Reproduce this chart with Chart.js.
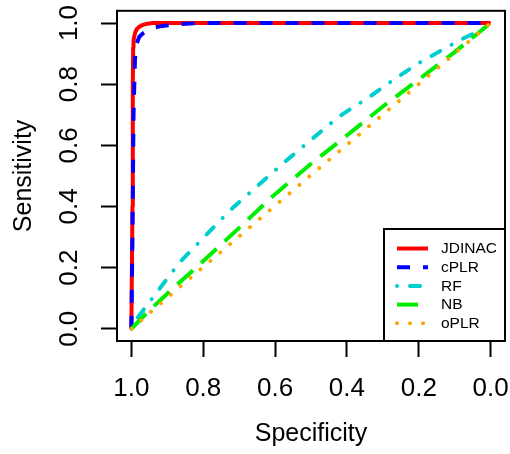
<!DOCTYPE html>
<html>
<head>
<meta charset="utf-8">
<script src="https://cdn.jsdelivr.net/npm/chart.js@4/dist/chart.umd.min.js"></script>
<style>
html,body{margin:0;padding:0;background:#fff;}
canvas{display:block;}
</style>
</head>
<body>
<canvas id="c" width="510" height="454" style="width:510px;height:454px"></canvas>
<script>
// ---- data (specificity on x, sensitivity on y) ----
const seriesNames = ["JDINAC", "cPLR", "RF", "NB", "oPLR"];

const jdinacSpec = [1, 0.997, 0.996, 0.995, 0.994, 0.992, 0.989, 0.985, 0.978, 0.968, 0.955, 0.94, 0.9, 0];
const jdinacSens = [0, 0.4, 0.8, 0.92, 0.94, 0.957, 0.97, 0.98, 0.988, 0.994, 0.998, 1, 1, 1];

const cplrSpec = [1, 0.997, 0.994, 0.99, 0.986, 0.978, 0.967, 0.955, 0.94, 0.92, 0.897, 0.864, 0.8, 0];
const cplrSens = [0, 0.3, 0.7, 0.88, 0.93, 0.955, 0.967, 0.976, 0.984, 0.989, 0.993, 0.997, 1, 1];

const rfSpec = [1, 0.983, 0.886, 0.8635, 0.724, 0.576, 0.4225, 0.339, 0.257, 0.2, 0.086, 0.022, 0];
const rfSens = [0, 0.036, 0.186, 0.22, 0.389, 0.543, 0.694, 0.757, 0.825, 0.869, 0.944, 0.98, 1];

const nbSpec = [1, 0.95, 0.873, 0.831, 0.7, 0.608, 0.5, 0.427, 0.3, 0.214, 0.1, 0];
const nbSens = [0, 0.06, 0.144, 0.188, 0.33, 0.432, 0.54, 0.607, 0.727, 0.803, 0.905, 1];

const oplrSpec = [1, 0.882, 0.75, 0.5, 0.441, 0.246, 0];
const oplrSens = [0, 0.12, 0.252, 0.503, 0.561, 0.754, 1];

const xTickValues = [0, 0.2, 0.4, 0.6, 0.8, 1.0];
const xTickLabels = ["0.0", "0.2", "0.4", "0.6", "0.8", "1.0"];
const yTickValues = [0, 0.2, 0.4, 0.6, 0.8, 1.0];
const yTickLabels = ["0.0", "0.2", "0.4", "0.6", "0.8", "1.0"];

const xTitle = "Specificity";
const yTitle = "Sensitivity";

// ---- build ----
function pts(xs, ys) { return xs.map((x, i) => ({ x: x, y: ys[i] })); }

const styles = [
  { color: "#FF0000", dash: [], cap: "butt" },
  { color: "#0000FF", dash: [13, 13], cap: "butt" },
  { color: "#00CDCD", dash: [0.01, 13, 10, 13], cap: "round" },
  { color: "#00EE00", dash: [21, 11], cap: "butt" },
  { color: "#FFA500", dash: [0.01, 13], cap: "round" }
];
const allSpec = [jdinacSpec, cplrSpec, rfSpec, nbSpec, oplrSpec];
const allSens = [jdinacSens, cplrSens, rfSens, nbSens, oplrSens];

const datasets = seriesNames.map((name, i) => ({
  label: name,
  data: pts(allSpec[i], allSens[i]),
  borderColor: styles[i].color,
  backgroundColor: styles[i].color,
  borderDash: styles[i].dash,
  borderCapStyle: styles[i].cap,
  borderJoinStyle: "round",
  borderWidth: 4,
  pointRadius: 0,
  fill: false,
  tension: 0,
  order: seriesNames.length - 1 - i
}));

const FONT = "'Liberation Sans', Arial, Helvetica, sans-serif";

const framePlugin = {
  id: "frame",
  afterDatasetsDraw(chart) {
    const a = chart.chartArea, ctx = chart.ctx;
    ctx.save();
    ctx.strokeStyle = "#000";
    ctx.lineWidth = 2;
    ctx.strokeRect(a.left, a.top, a.right - a.left, a.bottom - a.top);
    ctx.restore();
  }
};

const legendPlugin = {
  id: "boxLegend",
  afterDraw(chart) {
    const a = chart.chartArea, ctx = chart.ctx;
    const bx = 384, by = 229, bw = a.right - 384, bh = a.bottom - 229;
    ctx.save();
    ctx.fillStyle = "#fff";
    ctx.fillRect(bx, by, bw, bh);
    ctx.strokeStyle = "#000";
    ctx.lineWidth = 2;
    ctx.strokeRect(bx, by, bw, bh);
    const rowY0 = 248.5, rowStep = 18.7;
    chart.data.datasets.forEach((ds, i) => {
      const y = rowY0 + i * rowStep;
      ctx.beginPath();
      ctx.strokeStyle = ds.borderColor;
      ctx.lineWidth = ds.borderWidth;
      ctx.lineCap = ds.borderCapStyle;
      ctx.setLineDash(ds.borderDash);
      ctx.moveTo(397, y);
      ctx.lineTo(428, y);
      ctx.stroke();
      ctx.setLineDash([]);
      ctx.fillStyle = "#000";
      ctx.font = "15.5px " + FONT;
      ctx.textBaseline = "middle";
      ctx.textAlign = "left";
      ctx.fillText(ds.label, 441, y + 0.5);
    });
    ctx.restore();
  }
};

new Chart(document.getElementById("c"), {
  type: "line",
  data: { datasets: datasets },
  plugins: [framePlugin, legendPlugin],
  options: {
    responsive: false,
    animation: false,
    events: [],
    layout: { padding: { top: 10.8, right: 5, left: 0, bottom: 0 } },
    plugins: { legend: { display: false }, tooltip: { enabled: false }, title: { display: false } },
    scales: {
      x: {
        type: "linear",
        reverse: true,
        min: -0.04,
        max: 1.04,
        afterBuildTicks(s) { s.ticks = xTickValues.map(v => ({ value: v })); },
        afterFit(s) { s.height = 113; s.paddingLeft = 0; s.paddingRight = 0; },
        grid: { display: true, drawOnChartArea: false, drawTicks: true, tickLength: 16, tickWidth: 2, tickColor: "#000" },
        border: { display: false },
        ticks: {
          autoSkip: false,
          maxRotation: 0,
          minRotation: 0,
          padding: 16,
          color: "#000",
          font: { family: FONT, size: 26 },
          callback(v) { const k = xTickValues.findIndex(t => Math.abs(t - v) < 1e-9); return k >= 0 ? xTickLabels[k] : ""; }
        },
        title: { display: true, text: xTitle, color: "#000", font: { family: FONT, size: 25 }, padding: { top: 0, bottom: 5 } }
      },
      y: {
        type: "linear",
        min: -0.04,
        max: 1.04,
        afterBuildTicks(s) { s.ticks = yTickValues.map(v => ({ value: v })); },
        afterFit(s) { s.width = 117; s.paddingTop = 0; s.paddingBottom = 0; },
        grid: { display: true, drawOnChartArea: false, drawTicks: true, tickLength: 16, tickWidth: 2, tickColor: "#000" },
        border: { display: false },
        ticks: {
          autoSkip: false,
          minRotation: 90,
          maxRotation: 90,
          crossAlign: "center",
          padding: 13,
          color: "#000",
          font: { family: FONT, size: 26 },
          callback(v) { const k = yTickValues.findIndex(t => Math.abs(t - v) < 1e-9); return k >= 0 ? yTickLabels[k] : ""; }
        },
        title: { display: true, text: yTitle, color: "#000", font: { family: FONT, size: 25 }, padding: { top: 9, bottom: 0 } }
      }
    }
  }
});
</script>
</body>
</html>
